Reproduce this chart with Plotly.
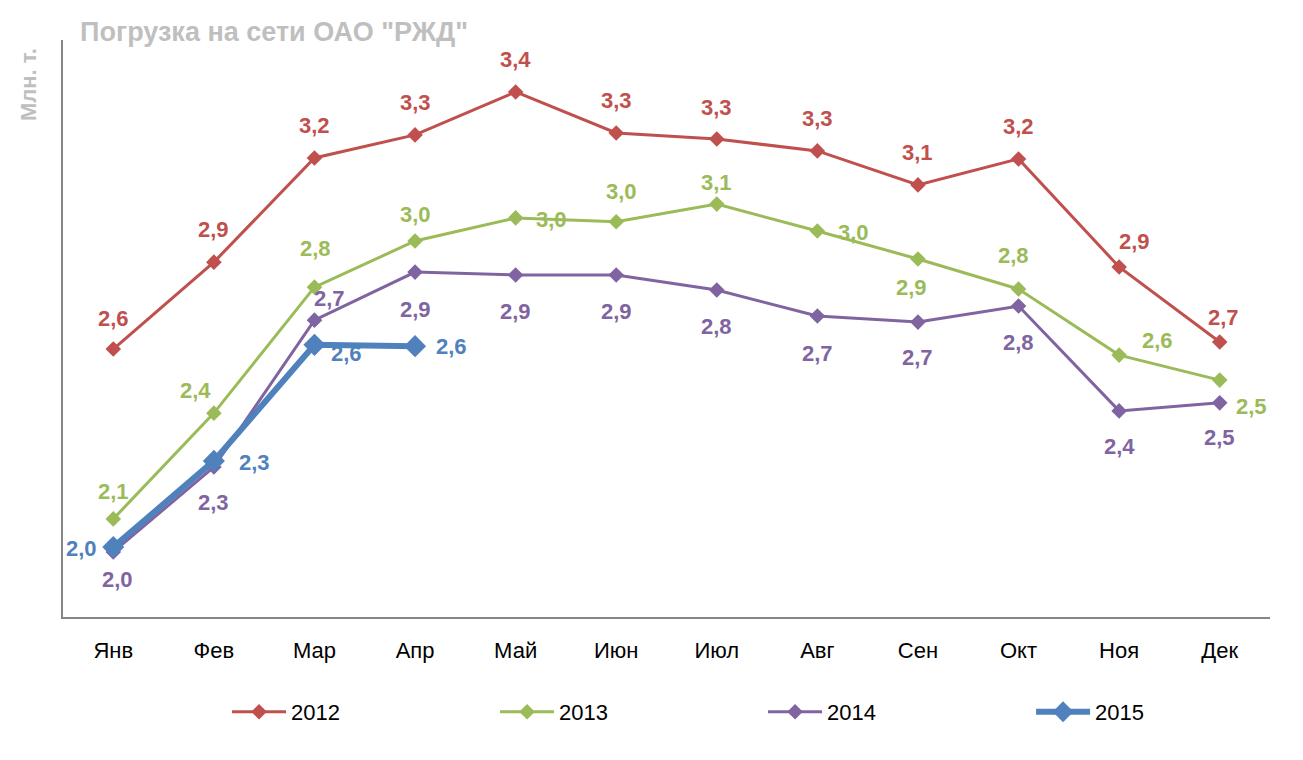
import plotly.graph_objects as go

months = ["Янв", "Фев", "Мар", "Апр", "Май", "Июн", "Июл", "Авг", "Сен", "Окт", "Ноя", "Дек"]
series_names = ["2012", "2013", "2014", "2015"]

v2012 = [2.636, 2.907, 3.232, 3.304, 3.438, 3.310, 3.291, 3.254, 3.148, 3.229, 2.892, 2.658]
v2013 = [2.106, 2.436, 2.829, 2.973, 3.045, 3.033, 3.088, 3.004, 2.917, 2.823, 2.617, 2.539]
v2014 = [2.003, 2.268, 2.726, 2.876, 2.867, 2.867, 2.820, 2.739, 2.720, 2.770, 2.443, 2.468]
v2015 = [2.018, 2.287, 2.649, 2.645]

values = [v2012, v2013, v2014, v2015]

# styling (not data)
colors = ["#C0504D", "#9BBB59", "#8064A2", "#4F81BD"]
line_widths = [3, 3, 3, 6]
marker_sizes = [12, 12, 12, 17]

# label offsets in pixels (dx right, dy down) per point
offsets = [
    [(0, -31), (0, -33), (0, -32), (0, -32), (0, -32), (0, -32), (0, -32), (0, -32), (0, -32), (0, -32), (15, -25), (4, -24)],
    [(0, -27), (-18, -23), (1, -39), (0, -26), (36, 2), (5, -30), (0, -22), (36, 1), (-6, 29), (-5, -34), (38, -15), (32, 26)],
    [(4, 28), (0, 36), (15, -22), (0, 37), (0, 37), (0, 37), (0, 36), (0, 37), (0, 35), (0, 36), (0, 36), (0, 35)],
    [(-32, 1), (41, 2), (32, 9), (36, 0)],
]

FONT = "Liberation Sans, Arial, sans-serif"
LEG_ITEM_W = 54

fig = go.Figure()
annotations = []
for name, vals, col, lw, ms, offs in zip(series_names, values, colors, line_widths, marker_sizes, offsets):
    xs = months[:len(vals)]
    fig.add_trace(go.Scatter(
        x=xs, y=vals, name=name, mode="lines+markers",
        line=dict(color=col, width=lw),
        marker=dict(symbol="diamond", size=ms, color=col),
        hoverinfo="x+y",
    ))
    for m, v, (dx, dy) in zip(xs, vals, offs):
        annotations.append(dict(
            x=m, y=v, xref="x", yref="y", text=f"{v:.1f}".replace(".", ","),
            showarrow=False, xshift=dx, yshift=-dy,
            font=dict(family=FONT, size=22, color=col, weight="bold"),
        ))

annotations.append(dict(
    xref="paper", yref="paper", x=0.0124, y=1.0139, xanchor="left", yanchor="middle",
    text='Погрузка на сети ОАО "РЖД"', showarrow=False,
    font=dict(family=FONT, size=27, color="#BFBFBF", weight="bold"),
))
annotations.append(dict(
    xref="paper", yref="paper", x=-0.029, y=0.9237, xanchor="center", yanchor="middle",
    text="Млн. т.", textangle=-90, showarrow=False,
    font=dict(family=FONT, size=22, color="#BFBFBF", weight="bold"),
))

fig.update_layout(
    width=1287, height=744,
    margin=dict(l=55, r=25, t=32, b=135, autoexpand=False),
    paper_bgcolor="#FFFFFF",
    plot_bgcolor="rgba(0,0,0,0)",
    font=dict(family=FONT, size=22, color="#000000"),
    showlegend=True,
    legend=dict(orientation="h", x=0.580, xanchor="center", y=-0.1646, yanchor="middle",
                itemwidth=LEG_ITEM_W,
                entrywidth=268 - (LEG_ITEM_W + 15), entrywidthmode="pixels",
                font=dict(family=FONT, size=22, color="#000000"),
                bgcolor="rgba(0,0,0,0)"),
    annotations=annotations,
    xaxis=dict(type="category", categoryorder="array", categoryarray=months,
               range=[-0.5, 11.5], showgrid=False, zeroline=False,
               showline=True, linecolor="#868686", linewidth=2,
               ticks="", ticklabelstandoff=13,
               tickfont=dict(family=FONT, size=22, color="#000000")),
    yaxis=dict(range=[1.8, 3.6], showgrid=False, zeroline=False,
               showline=True, linecolor="#868686", linewidth=2,
               showticklabels=False, ticks=""),
)

fig.write_html("out.html")
